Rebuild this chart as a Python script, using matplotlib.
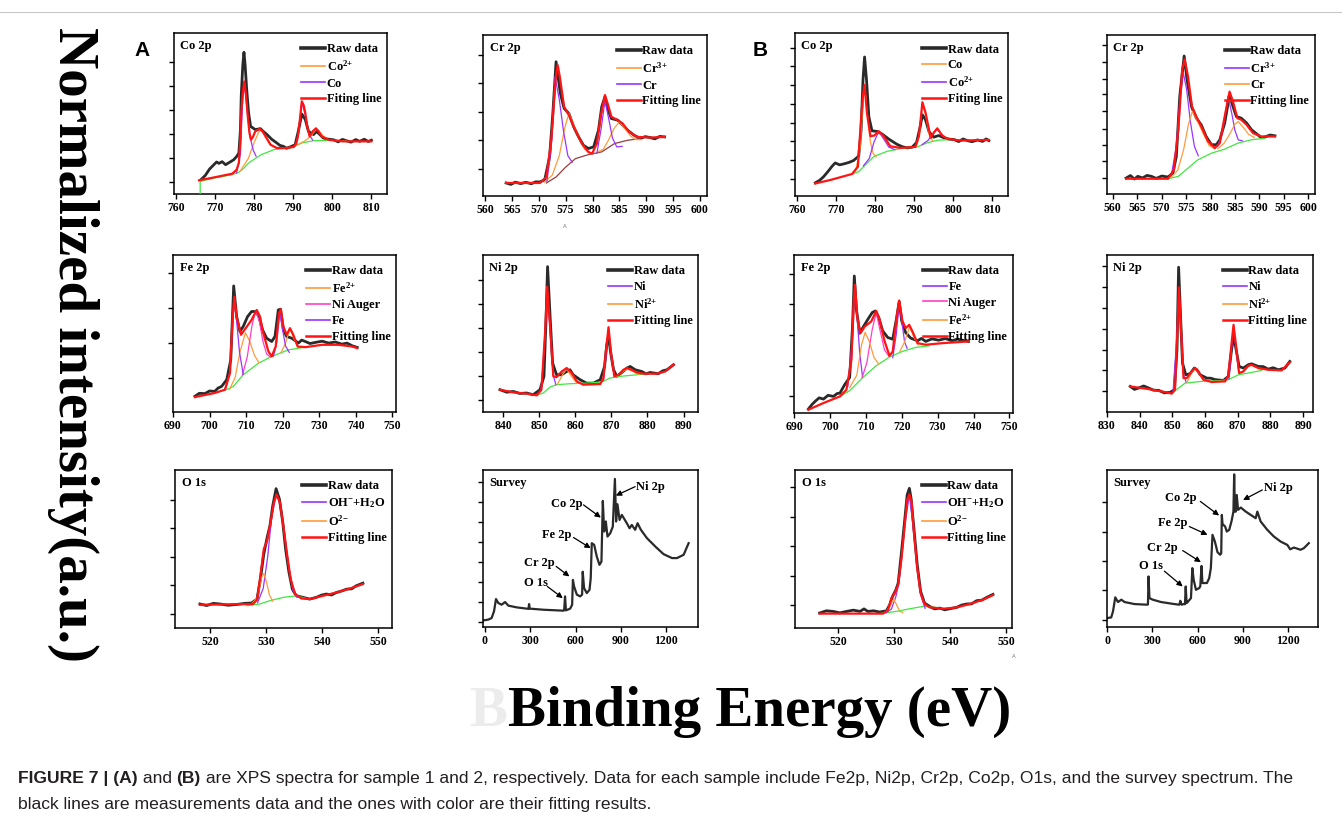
import numpy as np
import matplotlib
matplotlib.use("Agg")
import matplotlib.pyplot as plt
from matplotlib.lines import Line2D

plt.rcParams['font.family'] = 'Liberation Serif'
plt.rcParams['font.weight'] = 'bold'
plt.rcParams['mathtext.fontset'] = 'custom'
plt.rcParams['mathtext.rm'] = 'Liberation Serif:bold'
plt.rcParams['mathtext.default'] = 'rm'

nan = np.nan

# ---------------- sample 1 (A) ----------------
# Co 2p
a_co_raw = np.array([[766.4, 8.9], [767.5, 11.5], [768.6, 15.5], [769.7, 18.2], [770.4, 19.9], [771.0, 19.0], [771.8, 20.1],
                     [772.7, 18.2], [773.8, 19.8], [774.8, 21.3], [775.6, 23.5], [776.1, 25.5], [776.5, 40], [776.7, 60.7],
                     [777.1, 80], [777.4, 88], [777.7, 80], [778.1, 64.8], [778.6, 50], [779.1, 42], [780.3, 40],
                     [781.6, 40.6], [782.5, 38.5], [783.3, 36.9], [784.5, 34], [785.8, 31.7], [786.6, 30.2], [787.5, 29.6],
                     [788.3, 28.4], [789.2, 29.2], [790.5, 30.6], [791.4, 40], [792.2, 49.7], [793.1, 46.2], [793.9, 38.9],
                     [795.2, 36.9], [796.0, 38.9], [797.7, 34.8], [798.8, 34.1], [800.3, 33.7], [801.5, 32.4], [802.6, 33.9],
                     [803.6, 33.1], [804.8, 32.2], [806.0, 33.8], [807.0, 32.7], [808.2, 34.0], [809.2, 32.6], [810.0, 33.4]])
a_co_fit = np.array([[765.9, 8.5], [768.9, 9.9], [774.4, 12.6], [775.5, 15], [776.1, 19.3], [776.5, 35], [776.7, 50],
                     [777.1, 63], [777.5, 69.9], [777.9, 62], [778.4, 47.8], [778.8, 38], [779.2, 33.7], [779.7, 35.5],
                     [780.3, 38.9], [781.4, 40.4], [782.2, 38.8], [782.9, 35.8], [784.2, 30.6], [785.8, 28.6], [788, 28.5],
                     [790.1, 29.2], [790.8, 31.5], [791.2, 35.8], [791.7, 46], [792.2, 57.6], [792.7, 55], [793.1, 50.3],
                     [793.6, 42], [794.2, 35.8], [795.0, 38.9], [795.8, 40.8], [796.5, 39], [797.3, 35.8], [799.0, 33.7],
                     [802.8, 32.7], [810, 32.7]])
a_co_co2 = np.array([[776.5, 14.5], [778.5, 22], [780, 32], [781.5, 40.2], [783, 36], [784.5, 30], [786, 27.8],
                     [nan, nan], [791, 30.5], [793, 33], [794.5, 36], [796, 40.5], [797.5, 36.5], [799, 33.5]])
a_co_co = np.array([[775.5, 13], [776.5, 25], [777, 55], [777.5, 69.5], [778.2, 52], [779, 35], [779.8, 27], [780.5, 23.5],
                    [nan, nan], [790.5, 30], [791.3, 36], [792.2, 57], [793.1, 49], [794, 37], [795, 33.5]])
a_co_base = np.array([[766.2, 0], [766.2, 7.9], [770, 10], [774.4, 12], [776.1, 13.5], [777.4, 16.1], [778.3, 18.5],
                      [779.2, 20.3], [781.8, 24.4], [785, 27.5], [790.1, 29.2], [792.2, 31.7], [795.2, 33.1],
                      [798.6, 33.3], [803.6, 33.1]])

# Cr 2p
a_cr_raw = np.array([[563.9, 8.1], [564.8, 7.2], [565.6, 8.6], [566.6, 7.7], [567.6, 8.5], [568.6, 7.6], [569.4, 8.8],
                     [570.2, 8.7], [571.1, 10.2], [572.0, 24.3], [572.6, 51.2], [573.2, 83.4], [574.0, 63.7],
                     [574.7, 54.4], [575.6, 51.2], [576.5, 42.9], [577.4, 36.7], [578.3, 31.5], [579.2, 29.5],
                     [580.2, 30.5], [581.1, 40.9], [581.7, 55.4], [582.3, 61.6], [582.9, 53.3], [583.5, 48.1],
                     [584.7, 47.1], [585.6, 44], [586.5, 40.9], [587.7, 37.8], [588.9, 35.7], [589.8, 36.9],
                     [590.7, 36.3], [591.6, 35.5], [592.5, 37.0], [593.4, 36.7]])
a_cr_fit = np.array([[563.9, 8.1], [570.2, 8.1], [571.4, 11.8], [572.3, 34.6], [573.1, 72], [573.5, 81.3], [573.9, 74],
                     [574.7, 55.4], [575.6, 50.2], [576.5, 42.9], [578, 32.6], [579.2, 27.4], [579.9, 26.3],
                     [580.8, 32.6], [581.5, 49.2], [582.3, 62.7], [582.9, 56.4], [583.5, 49.2], [584.7, 47.1],
                     [585.6, 45], [586.8, 39.8], [588.3, 36.7], [590.7, 36.3], [593.4, 36.7]])
a_cr_cr3 = np.array([[571, 8.5], [572.5, 13], [573.8, 25], [574.8, 42], [575.6, 51.5], [576.5, 44], [577.5, 36],
                     [578.5, 29], [579.5, 26.5], [nan, nan], [581, 27.5], [582, 29], [583, 35], [584, 42], [585, 46],
                     [586, 42], [587, 37.5], [588, 35], [589, 35]])
a_cr_cr = np.array([[571.5, 9], [572.3, 30], [573.0, 74], [573.8, 60], [574.6, 40], [575.4, 25], [576.2, 21],
                    [nan, nan], [580.8, 26.5], [581.6, 42], [582.3, 59], [583, 48], [583.7, 36], [584.5, 30.5],
                    [585.5, 30.8]])
a_cr_base = np.array([[571.4, 8.1], [573.2, 11.8], [575, 18], [576.8, 23.2], [579.2, 25.7], [581.7, 27.4],
                      [584.1, 32.6], [586.5, 34.6], [588.9, 35.7]])

# Fe 2p
a_fe_raw = np.array([[696, 10], [697.2, 11.9], [698.7, 11.7], [700, 13.4], [701.4, 13.1], [702.3, 15.2], [703.3, 16.3],
                     [704.7, 20.6], [705.8, 33.3], [706.6, 80.3], [707.4, 60.8], [708.3, 51.3], [709.2, 54.4],
                     [710.4, 60.8], [711.5, 64], [712.6, 64], [713.5, 60.8], [714.5, 52.3], [715.6, 47], [717, 44.9],
                     [717.9, 48.1], [718.8, 65], [719.4, 65.5], [720.2, 52.3], [721.1, 48.1], [722.5, 47],
                     [724.3, 43.9], [725.2, 45.8], [726.2, 44.9], [727.5, 43.6], [728.9, 44.3], [730.8, 45.1],
                     [732.6, 43.9], [734.4, 44.6], [736.2, 43.2], [737.6, 43.9], [739, 42.2], [740.4, 41.1]])
a_fe_fit = np.array([[696, 9.5], [701.4, 12.1], [704.2, 14.2], [705.6, 24.8], [706.3, 60.8], [706.8, 73.5],
                     [707.4, 60.8], [708.6, 49.2], [709.9, 53.4], [711.5, 58.7], [712.9, 65], [713.8, 60.8],
                     [714.7, 50.2], [716.1, 38.6], [717, 35.4], [718.1, 41.7], [719, 62.9], [719.5, 65.5],
                     [720.2, 54.4], [721.1, 49.2], [722, 53.4], [722.9, 49.2], [724.1, 41.7], [726.2, 41.3],
                     [730.8, 42.8], [735.3, 42.8], [739, 41.7], [740.4, 40.7]])
a_fe_fe2 = np.array([[705.5, 14.5], [707, 22], [708.3, 38], [709.8, 50.5], [711, 45], [712.3, 36], [713.5, 31.5],
                     [nan, nan], [719.5, 37.5], [720.8, 44], [722, 53], [723, 47], [724.3, 41]])
a_fe_auger = np.array([[709, 23.5], [710.3, 35], [711.6, 55], [712.6, 64.5], [713.6, 58], [714.6, 45], [715.6, 37],
                       [716.6, 35]])
a_fe_fe = np.array([[704.5, 15.5], [705.5, 25], [706.3, 55], [706.8, 72.5], [707.4, 58], [708.2, 38], [709.2, 24],
                    [nan, nan], [717.5, 35.5], [718.4, 45], [719.2, 63.5], [720, 52], [720.8, 42], [721.8, 38]])
a_fe_base = np.array([[704.2, 13.8], [706.5, 16.3], [709.2, 23.7], [713.4, 31.1], [717, 35.4], [721.6, 39.6],
                      [726.2, 41.3]])

# Ni 2p
a_ni_raw = np.array([[839.1, 14.2], [841, 12.6], [842.8, 13.1], [844.6, 11.8], [846.5, 12.1], [848.3, 11], [850.2, 14.2],
                     [851.3, 22.7], [851.9, 60.8], [852.3, 92.6], [853, 60.8], [853.7, 31.1], [854.8, 23.7],
                     [856.2, 23.7], [857.6, 25.8], [858.5, 26.9], [859.4, 23.7], [861.3, 20.6], [863.1, 18.4],
                     [865, 18.4], [866.9, 20.6], [868.1, 29], [868.7, 42.8], [869.2, 48.1], [869.8, 37.5],
                     [870.6, 26.9], [871.5, 22.7], [872.9, 25.2], [874.3, 28], [875.2, 29], [876.6, 26.9],
                     [878.4, 25.8], [879.6, 24.3], [880.7, 25.2], [883, 24.4], [884.2, 26.2], [885.4, 26.9],
                     [887.2, 30.1]])
a_ni_fit = np.array([[839.1, 14.2], [842.8, 12.5], [846.5, 11.7], [849.3, 10.6], [850.6, 14.2], [851.6, 50.2],
                     [852.2, 79.9], [853, 54.4], [853.9, 22.7], [854.8, 22.2], [856.2, 25.8], [857.6, 28],
                     [859, 24.8], [860.4, 19.5], [862.2, 17.4], [866.9, 17.8], [867.8, 21.6], [868.5, 39.6],
                     [869.2, 54], [869.9, 37.5], [870.8, 22.7], [872, 23.7], [873.3, 26.9], [874.3, 28],
                     [875.6, 26.9], [877, 25.2], [878.9, 24.4], [882.6, 24.4], [884.9, 25.8], [887.2, 30.1]])
a_ni_ni = np.array([[850.5, 13.5], [851.6, 48], [852.2, 79], [853, 52], [853.8, 24], [854.6, 17.4],
                    [nan, nan], [867.8, 20], [868.6, 38], [869.2, 53], [869.9, 36], [870.8, 23]])
a_ni_ni2 = np.array([[855, 17.5], [856.5, 24], [857.6, 27.5], [858.8, 23], [860.4, 18.5],
                     [nan, nan], [871.5, 22.5], [873, 25.5], [874.3, 27.5], [875.8, 26], [877.5, 24]])
a_ni_base = np.array([[849.3, 10.6], [851.1, 12.1], [853, 15.9], [854.8, 17.4], [858.5, 18], [863.1, 18.4],
                      [867.3, 19.1], [869.6, 21.6], [872.4, 22.7], [877, 23.7], [879.8, 24.4]])

# O 1s
a_o_raw = np.array([[518.2, 15.2], [519.4, 14.2], [520.6, 15.6], [521.8, 15.2], [523.2, 14.4], [524.8, 14.9],
                    [526.2, 15.6], [527.4, 15.8], [528.4, 18.3], [529, 30.9], [529.6, 46.7], [530.2, 57.3],
                    [530.7, 64.6], [531.2, 77.3], [531.8, 88.2], [532.4, 81.5], [533, 66.7], [533.5, 49.9],
                    [534.1, 35.2], [534.7, 24.6], [535.4, 20.4], [536.6, 19.4], [537.8, 18.3], [539, 19.4],
                    [539.9, 20.8], [540.8, 21.5], [541.7, 20.9], [542.6, 22.5], [543.5, 23.4], [544.4, 24.6],
                    [545.3, 24.8], [546.1, 26.7], [547.3, 28.4]])
a_o_fit = np.array([[518.2, 14.7], [527.7, 15.2], [528.4, 17.9], [529, 33], [529.6, 49.9], [530.2, 55.2],
                    [530.8, 66.7], [531.4, 79.3], [531.9, 84.6], [532.5, 79.3], [533.1, 64.6], [533.8, 45.7],
                    [534.4, 31], [535.2, 21.5], [536.3, 18.7], [537.8, 18.3], [540.2, 20.4], [542.6, 22.5],
                    [545, 25], [547.3, 27.8]])
a_o_oh = np.array([[528.5, 16], [529.5, 25], [530.3, 45], [531, 70], [531.8, 84], [532.5, 79], [533.2, 62], [534, 40],
                   [534.8, 24], [535.5, 19.5]])
a_o_o2 = np.array([[527.5, 15.5], [528.5, 19.5], [529.2, 32], [529.6, 34.5], [530.1, 29], [530.6, 21], [531.2, 17]])
a_o_base = np.array([[526.5, 14.1], [528.9, 15.2], [530.7, 17.3], [533.1, 19.4], [535.4, 20.4], [537.2, 18.7]])

# survey
a_sv_raw = np.array([[-11, 4.2], [22, 4.7], [44, 5.7], [60, 10], [73, 17.8], [88, 15.3], [110, 14.2], [133, 15.9],
                     [155, 13.6], [210, 12.5], [276, 11.7], [288, 11.6], [292, 14.6], [296, 11.7], [387, 11],
                     [475, 10.6], [519, 10.4], [524, 10.6], [530, 19.5], [536, 10.6], [564, 11.7], [577, 14.2],
                     [582, 30], [590, 25.8], [608, 20.6], [630, 19.5], [643, 20.6], [647, 35.2], [656, 24.8],
                     [674, 21.6], [692, 23.7], [700, 31.1], [707, 53.4], [723, 52.3], [740, 44.9], [758, 39.6],
                     [771, 41.7], [780, 80.3], [789, 60.8], [800, 67.2], [811, 57.6], [829, 59.7], [846, 63.9],
                     [860, 94.3], [868, 67.2], [877, 78.2], [891, 68.2], [906, 71.4], [939, 66.1], [957, 62.9],
                     [972, 65], [994, 61.9], [1010, 66.1], [1032, 61.9], [1072, 56.6], [1127, 51.3], [1182, 46.4],
                     [1238, 43.9], [1271, 43.9], [1315, 46], [1348, 53.4]])

# ---------------- sample 2 (B) ----------------
# Co 2p
b_co_raw = np.array([[764.7, 8.1], [765.8, 9.6], [766.8, 11.8], [768, 15.2], [769, 18.3], [769.8, 20.3], [770.9, 19.1],
                     [772, 19.7], [773.3, 20.6], [774.5, 21.8], [775.8, 24.5], [776.4, 40], [776.9, 71.2],
                     [777.3, 85.3], [777.8, 71.2], [778.4, 48.5], [779.2, 40], [780.5, 39.6], [781.8, 38],
                     [783.5, 34.9], [785.6, 31.7], [786.9, 30.3], [788.2, 29.5], [789.5, 30], [790.6, 32.8],
                     [791.5, 42.1], [792.1, 49.8], [792.9, 46.7], [793.8, 39.4], [795, 36.1], [796.3, 37.1],
                     [797.6, 35.7], [798.9, 34.9], [800.2, 34.6], [801.4, 33.4], [802.5, 35.0], [803.6, 34],
                     [804.8, 33.3], [806.2, 34.4], [807.5, 33.5], [808.4, 35.0], [809.1, 34]])
b_co_fit = np.array([[764.7, 7.7], [768.5, 9.8], [774.1, 13.5], [775.6, 18], [776.4, 47], [776.9, 62], [777.3, 68.2],
                     [777.9, 51.2], [778.8, 36.7], [779.8, 37.1], [780.9, 39.8], [782.2, 36.7], [783.9, 30.5],
                     [786.5, 29.5], [790.3, 30.1], [791.2, 36.7], [791.7, 48], [792.1, 57.5], [792.9, 51.2],
                     [794.2, 35.7], [795, 38.8], [795.9, 41.5], [797.2, 37.1], [798.5, 35.1], [801.9, 34],
                     [809.1, 34.4]])
b_co_co = np.array([[775, 15], [776.2, 30], [776.8, 55], [777.3, 67.5], [778, 50], [778.8, 33], [779.5, 26],
                    [780.3, 24], [nan, nan], [790.5, 30.5], [791.3, 37], [792.1, 57], [792.9, 50], [793.8, 38],
                    [794.7, 34]])
b_co_co2 = np.array([[777, 18.5], [778.5, 23], [779.7, 33], [780.9, 39.5], [782.2, 35], [783.5, 30], [785, 28.5],
                     [nan, nan], [792, 31.5], [793.5, 34], [794.7, 38], [795.9, 41], [797.2, 37], [798.5, 35]])
b_co_base = np.array([[774.1, 13.5], [775.8, 14.9], [777.5, 19.1], [779.7, 24.3], [783.1, 27.4], [787.4, 29.5],
                      [790.8, 30.1], [793.3, 32.6], [795.9, 34.2], [799.3, 34.6]])

# Cr 2p
b_cr_raw = np.array([[562.7, 10], [563.6, 11.6], [564.4, 9.4], [565.1, 11.1], [566.1, 10.1], [567.0, 11.7],
                     [567.9, 11.1], [568.9, 9.8], [570.0, 11.3], [571.3, 10.7], [572.3, 13.2], [573, 23.6],
                     [573.7, 61.3], [574.6, 86.8], [575.2, 71.8], [576.1, 55], [577.1, 47.7], [578.1, 43.5],
                     [579.1, 36.2], [580.2, 31], [581.2, 31], [581.9, 34.1], [582.9, 44.6], [583.9, 62.3],
                     [584.6, 55], [585.3, 48.7], [586.3, 47.7], [587.4, 44.6], [588.4, 40.4], [589.7, 37.2],
                     [590.4, 35.3], [591.1, 35.8], [592.2, 37.1], [593.2, 36.6]])
b_cr_fit = np.array([[562.7, 9.6], [571.3, 9.6], [572.5, 15.3], [573.4, 40.4], [574.2, 78], [574.7, 84.7],
                     [575.4, 73.8], [576.2, 55], [577.1, 48.7], [578.1, 42.5], [579.5, 33.1], [580.9, 28.9],
                     [581.9, 32], [582.9, 48.7], [583.9, 64.4], [584.6, 58.2], [585.5, 47.7], [586.3, 46.7],
                     [587.4, 43.5], [588.7, 38.3], [590.4, 36.2], [593.2, 36.2]])
b_cr_cr3 = np.array([[572, 12], [573, 30], [573.8, 62], [574.4, 76.5], [575.1, 66], [575.9, 45], [576.7, 30],
                     [577.5, 24], [nan, nan], [581.5, 30], [582.5, 40], [583.6, 61.5], [584.4, 50], [585, 40],
                     [585.7, 34], [586.5, 33.5]])
b_cr_cr = np.array([[572, 10.5], [573.3, 15], [574.5, 28], [575.5, 44], [576.3, 52], [577.3, 46], [578.5, 38],
                    [579.7, 30.5], [580.8, 28.5], [nan, nan], [581.5, 28.5], [582.8, 32], [584, 38], [585, 44],
                    [585.7, 45.5], [586.7, 42], [587.8, 37.5], [589, 35.5]])
b_cr_base = np.array([[571.3, 9.6], [573.4, 11.1], [575.4, 16.3], [577.4, 21.5], [580.2, 25.7], [582.9, 28.2],
                      [585.6, 32], [588.4, 34.1], [591.1, 35.1]])

# Fe 2p
b_fe_raw = np.array([[694, 2.5], [695.1, 5.6], [695.9, 7.4], [697, 9.6], [698.2, 8.8], [699.5, 11.2], [701, 10.5],
                     [702, 12.3], [702.8, 12.6], [704.1, 17.9], [705.5, 22.5], [706.3, 54.7], [706.8, 86.7],
                     [707.4, 65.3], [708.3, 50.5], [709.2, 54.1], [710.6, 59.4], [711.8, 63.6], [712.7, 64.6],
                     [713.6, 60.4], [714.7, 52], [716.1, 47.8], [717.5, 46.7], [718.6, 60.4], [719.3, 70.5],
                     [720, 58.3], [721.1, 50.9], [722.5, 47.4], [724.4, 45.7], [725.5, 47.2], [726.7, 45.3],
                     [728.4, 46.9], [730.3, 46.1], [732.2, 47.1], [734, 45.7], [735.5, 46.8], [736.8, 46.1],
                     [738.6, 45.3]])
b_fe_fit = np.array([[694, 2.1], [698.2, 6.3], [702.8, 10.5], [704.6, 14.7], [706, 33.7], [706.6, 69.5], [707, 81.1],
                     [707.6, 61], [708.5, 50.5], [709.7, 54.7], [711.5, 57.9], [712.9, 64.6], [713.8, 59.4],
                     [715.2, 45.7], [716.6, 36.2], [717.5, 38.9], [718.6, 61], [719.3, 71.2], [720.2, 58.3],
                     [721.1, 53.7], [722.1, 55.8], [723, 51.6], [724.4, 44.2], [726.7, 43.2], [731.3, 44.2],
                     [738.6, 45.3]])
b_fe_fe = np.array([[705, 17], [706, 40], [706.9, 79.5], [707.6, 60], [708.3, 38], [709.1, 22.5],
                    [nan, nan], [717.5, 35], [718.5, 50], [719.3, 69.5], [720.1, 57], [720.8, 45], [721.5, 41]])
b_fe_auger = np.array([[709, 22.5], [710.3, 32], [711.8, 53], [712.9, 63.5], [714, 52], [715.2, 40], [716.4, 36]])
b_fe_fe2 = np.array([[705.5, 16], [707.5, 24], [708.8, 43], [709.8, 51], [711, 45], [712.3, 35], [713.6, 31],
                     [nan, nan], [719.5, 39], [720.8, 45], [722.2, 54.5], [723.4, 48], [724.6, 43]])
b_fe_base = np.array([[702.8, 10.5], [705.5, 14.1], [709, 22.1], [712.9, 29.9], [716.6, 35.4], [720.2, 39],
                      [723.9, 41.5], [727.6, 42.5]])

# Ni 2p
b_ni_raw = np.array([[837.1, 16.3], [838.4, 14.4], [839.7, 15.3], [841.2, 16.6], [842.7, 15.3], [844.2, 13.9],
                     [845.8, 13.8], [847.5, 12.2], [849.3, 12.5], [850.6, 14.2], [851.4, 39.6], [851.9, 92.2],
                     [852.5, 60.8], [853.1, 31.1], [854.1, 23.7], [855.4, 24.4], [856.7, 28], [857.5, 26.9],
                     [858.5, 23.7], [860.5, 21.6], [861.8, 21.5], [863.1, 20.6], [865.6, 20.1], [867.1, 22.7],
                     [868.1, 39.6], [868.7, 48.5], [869.5, 39.6], [870.4, 29], [871.7, 28], [873.2, 30.1],
                     [874.2, 30.7], [876.3, 29], [877.8, 28.9], [879.3, 27.3], [880.8, 28.2], [882.4, 26.9],
                     [884.4, 28], [885.9, 32.2]])
b_ni_fit = np.array([[837.1, 16.3], [842.7, 14.6], [846.8, 13.1], [849.8, 11.7], [850.8, 14.2], [851.5, 50.2],
                     [852, 79.4], [852.6, 54.4], [853.4, 21.6], [854.4, 21.6], [855.9, 25.8], [856.9, 28],
                     [857.9, 25.8], [859.5, 20.6], [862, 19.1], [866.1, 19.5], [867.1, 23.1], [868.1, 43.9],
                     [868.7, 55.5], [869.5, 41.7], [870.4, 24.8], [871.7, 25.8], [873.2, 29.4], [874.2, 30.1],
                     [876.3, 28], [879.3, 26.9], [883.4, 26.5], [885.9, 31.6]])
b_ni_ni = np.array([[850.2, 13], [851.3, 45], [852, 78.5], [852.7, 52], [853.4, 24], [854.2, 19],
                    [nan, nan], [867.3, 21], [868.1, 40], [868.7, 54.5], [869.5, 40], [870.3, 25]])
b_ni_ni2 = np.array([[854.5, 19], [855.9, 25], [856.9, 27.5], [858, 25], [859.4, 20.5],
                     [nan, nan], [871.2, 25], [872.7, 28.5], [874.2, 29.8], [875.8, 28.3], [877.3, 26.7]])
b_ni_base = np.array([[849.8, 11.7], [851.9, 15.3], [853.9, 18.4], [859, 19.5], [865.1, 20.1], [867.1, 20.6],
                      [870.2, 23.7], [874.2, 25.2], [877.3, 26.5]])

# O 1s
b_o_raw = np.array([[516.7, 9.5], [517.9, 10.9], [519.1, 10.5], [520.3, 9.6], [521.5, 10.5], [522.7, 11.3],
                    [523.9, 10.5], [524.6, 12.1], [525.3, 10.5], [526.3, 10.9], [527.4, 10.1], [528.6, 10.9],
                    [529.2, 14.7], [529.7, 20], [530.3, 24.2], [530.7, 28.4], [531.3, 48.4], [531.9, 69.5],
                    [532.3, 84.2], [532.7, 88.4], [533, 82.1], [533.5, 63.2], [534.1, 40], [534.7, 23.2],
                    [535.4, 15.8], [536.3, 13.7], [537.2, 12.1], [538.1, 12.6], [539, 11.5], [539.9, 12.2],
                    [541.1, 13], [542, 14.5], [542.9, 15.2], [543.8, 15.3], [544.7, 17.3], [545.6, 17.6],
                    [546.4, 19.2], [547.6, 21.3]])
b_o_fit = np.array([[516.7, 9.1], [528, 9.1], [528.9, 11.6], [529.5, 18.9], [530.1, 22.1], [530.7, 27.4],
                    [531.3, 44.2], [531.9, 66.3], [532.3, 81.1], [532.7, 84.6], [533.1, 80], [533.5, 61],
                    [534.1, 37.9], [534.7, 22.1], [535.4, 15.2], [536.3, 13.1], [538.7, 12.2], [541.1, 13],
                    [543.5, 15.2], [545.8, 17.9], [547.6, 20.8]])
b_o_oh = np.array([[528.5, 9.5], [529.5, 12], [530.3, 20], [530.8, 28], [531.3, 44], [531.9, 66], [532.7, 84],
                   [533.4, 63], [534.1, 38], [534.8, 20], [535.5, 12.5]])
b_o_o2 = np.array([[528.3, 9.5], [529.2, 13.5], [529.9, 18.5], [530.5, 14], [531, 10.5], [531.5, 9.8]])
b_o_base = np.array([[527.4, 9.1], [530.4, 10.5], [532.8, 12.2], [535.2, 13.7], [537.5, 13]])

# survey
b_sv_raw = np.array([[0, 5.7], [26, 6.1], [38, 10], [53, 18.9], [71, 15.9], [93, 17.4], [115, 15.9], [181, 14.6],
                     [265, 14.2], [270, 14.4], [274, 32.2], [280, 18.4], [302, 17.4], [357, 15.9], [446, 14.6],
                     [479, 14.2], [485, 16.7], [494, 14.2], [507, 14.6], [516, 14.5], [521, 25.8], [527, 15.2],
                     [534, 15.9], [556, 18.4], [565, 37.5], [574, 30.1], [589, 23.7], [611, 24.8], [618, 26],
                     [626, 38.9], [632, 28], [662, 28], [677, 31.1], [688, 37.5], [699, 58.7], [715, 54.4],
                     [732, 47.7], [750, 46], [757, 47], [761, 71.4], [766, 65], [772, 65], [783, 64], [794, 60.8],
                     [810, 61.9], [825, 67.2], [838, 73.5], [843, 97.2], [848, 73.5], [854, 73.5], [860, 84.1],
                     [869, 74.6], [887, 76.1], [920, 73.5], [953, 71.4], [986, 69.3], [997, 73.5], [1019, 67.2],
                     [1063, 61.9], [1107, 57.6], [1152, 54.4], [1196, 52.3], [1215, 49.5], [1240, 50.6],
                     [1284, 49.2], [1306, 50.2], [1328, 52.3], [1339, 53.4]])

# survey labels: (text, text x, text y, arrow start x, arrow start y, arrow tip x, arrow tip y)
a_sv_labels = [("Ni 2p", 1094, 89.4, 994, 89.4, 866, 83.7), ("Co 2p", 541, 78.2, 652, 77.8, 767, 69.7),
               ("Fe 2p", 475, 58.3, 586, 57.0, 700, 50.2), ("Cr 2p", 360, 40.7, 471, 38.6, 559, 32.2),
               ("O 1s", 338, 28.0, 413, 25.8, 515, 18.4)]
b_sv_labels = [("Ni 2p", 1140, 88.3, 1030, 87.3, 902, 80.9), ("Co 2p", 490, 82.4, 618, 80.0, 743, 71.0),
               ("Fe 2p", 435, 66.1, 545, 64.0, 666, 58.7), ("Cr 2p", 368, 50.6, 501, 48.7, 622, 41.3),
               ("O 1s", 291, 38.6, 379, 35.6, 501, 25.8)]

RAW = '#2a2a2a'
RED = '#ff1414'
ORANGE = '#ff9b3d'
PURPLE = '#9a35ff'
MAGENTA = '#ff3fc6'
GREEN = '#3fe83f'
BROWN = '#9a3b3b'

W, H = 1342, 825
fig = plt.figure(figsize=(W / 100, H / 100), dpi=100)


def add_panel(box, xlim, xticks, yticks, title):
    l, r, t, b = box
    ax = fig.add_axes([l / W, 1 - b / H, (r - l) / W, (b - t) / H])
    ax.set_xlim(*xlim)
    ax.set_ylim(0, 100)
    ax.set_xticks(xticks)
    ax.set_yticks(yticks)
    ax.set_yticklabels([])
    ax.tick_params(direction='out', length=3.5, width=1, labelsize=8.5, pad=2)
    for s in ax.spines.values():
        s.set_linewidth(1.1)
    ax.text(0.03, 0.955, title, transform=ax.transAxes, fontsize=9, va='top', ha='left')
    return ax


def spectrum(ax, raw, fit, comps, base, base_color=GREEN):
    # comps: list of (array, color, label)
    handles = [Line2D([], [], color=RAW, lw=2.6)]
    labels = ["Raw data"]
    ax.plot(raw[:, 0], raw[:, 1], color=RAW, lw=2.0, zorder=2)
    ax.plot(base[:, 0], base[:, 1], color=base_color, lw=0.9, zorder=3)
    for arr, col, lab in comps:
        ax.plot(arr[:, 0], arr[:, 1], color=col, lw=0.9, zorder=3)
        handles.append(Line2D([], [], color=col, lw=1.2))
        labels.append(lab)
    ax.plot(fit[:, 0], fit[:, 1], color=RED, lw=1.6, zorder=4)
    return handles, labels


def legend(ax, handles, labels, fit_label="Fitting line"):
    handles = handles + [Line2D([], [], color=RED, lw=1.8)]
    labels = labels + [fit_label]
    ax.legend(handles, labels, loc='upper right', bbox_to_anchor=(1.0, 0.97), frameon=False, fontsize=9,
              handlelength=1.9, handletextpad=0.15, labelspacing=0.3, borderaxespad=0.15, borderpad=0.3)


def survey(ax, raw, marks):
    ax.plot(raw[:, 0], raw[:, 1], color=RAW, lw=1.6)
    for txt, tx, ty, sx, sy, px, py in marks:
        ax.text(tx, ty, txt, fontsize=9, ha='center', va='center')
        ax.annotate("", xy=(px, py), xytext=(sx, sy),
                    arrowprops=dict(arrowstyle='-|>', color='black', lw=0.9, mutation_scale=8,
                                    shrinkA=0, shrinkB=0))


# ---- A panels
ax = add_panel((174, 387, 33, 194), (759.5, 814), [760, 770, 780, 790, 800, 810],
               [7.5, 22.4, 37.3, 52.4, 66.9, 81.8], "Co 2p")
h, l = spectrum(ax, a_co_raw, a_co_fit, [(a_co_co2, ORANGE, "Co$^{2{+}}$"), (a_co_co, PURPLE, "Co")], a_co_base)
legend(ax, h, l, "Fiting line")

ax = add_panel((483, 707, 35, 196), (559.6, 601.3), list(range(560, 601, 5)),
               [17, 34.6, 52.3, 69.9, 87.6], "Cr 2p")
h, l = spectrum(ax, a_cr_raw, a_cr_fit, [(a_cr_cr3, ORANGE, "Cr$^{3{+}}$"), (a_cr_cr, PURPLE, "Cr")], a_cr_base, BROWN)
legend(ax, h, l)

ax = add_panel((173, 396, 255, 412), (690, 751), list(range(690, 751, 10)),
               [21.6, 43.9, 66.1, 88.3], "Fe 2p")
h, l = spectrum(ax, a_fe_raw, a_fe_fit, [(a_fe_fe2, ORANGE, "Fe$^{2{+}}$"), (a_fe_auger, MAGENTA, "Ni Auger"),
                                         (a_fe_fe, PURPLE, "Fe")], a_fe_base)
legend(ax, h, l)

ax = add_panel((483, 698, 255, 412), (834.4, 894), list(range(840, 891, 10)),
               [7.4, 22.7, 37.9, 53.4, 68.9, 84.1], "Ni 2p")
h, l = spectrum(ax, a_ni_raw, a_ni_fit, [(a_ni_ni, PURPLE, "Ni"), (a_ni_ni2, ORANGE, "Ni$^{2{+}}$")], a_ni_base)
legend(ax, h, l)

ax = add_panel((175, 392, 470, 628), (513.75, 552.5), [520, 530, 540, 550],
               [9.1, 26.9, 44.8, 63.2, 81.1], "O 1s")
h, l = spectrum(ax, a_o_raw, a_o_fit, [(a_o_oh, PURPLE, "OH$^{-}$+H$_2$O"), (a_o_o2, ORANGE, "O$^{2{-}}$")], a_o_base)
legend(ax, h, l)

ax = add_panel((483, 698, 470, 627), (-13, 1410), [0, 300, 600, 900, 1200],
               [3.2, 15.9, 28.6, 41.3, 54, 66.7, 79.4, 92.6], "Survey")
survey(ax, a_sv_raw, a_sv_labels)

# ---- B panels
ax = add_panel((795, 1008, 33, 196), (759.5, 814), [760, 770, 780, 790, 800, 810],
               [10.4, 22.2, 33.6, 45, 56.4, 67.8, 79.7, 90.7], "Co 2p")
h, l = spectrum(ax, b_co_raw, b_co_fit, [(b_co_co, ORANGE, "Co"), (b_co_co2, PURPLE, "Co$^{2{+}}$")], b_co_base)
legend(ax, h, l, "Fiting line")

ax = add_panel((1107, 1315, 35, 194), (558.8, 601.4), list(range(560, 601, 5)),
               [10, 20.5, 31, 41, 52.3, 62.8, 72.2, 83, 93.5], "Cr 2p")
h, l = spectrum(ax, b_cr_raw, b_cr_fit, [(b_cr_cr3, PURPLE, "Cr$^{3{+}}$"), (b_cr_cr, ORANGE, "Cr")], b_cr_base)
legend(ax, h, l)

ax = add_panel((794, 1013, 255, 413), (690, 751), list(range(690, 751, 10)),
               [10.7, 29.5, 49.5, 68.8, 88], "Fe 2p")
h, l = spectrum(ax, b_fe_raw, b_fe_fit, [(b_fe_fe, PURPLE, "Fe"), (b_fe_auger, MAGENTA, "Ni Auger"),
                                         (b_fe_fe2, ORANGE, "Fe$^{2{+}}$")], b_fe_base)
legend(ax, h, l)

ax = add_panel((1107, 1313, 255, 412), (830, 893), list(range(830, 891, 10)),
               [13.1, 26.5, 39.6, 52.8, 66.1, 79.4, 93], "Ni 2p")
h, l = spectrum(ax, b_ni_raw, b_ni_fit, [(b_ni_ni, PURPLE, "Ni"), (b_ni_ni2, ORANGE, "Ni$^{2{+}}$")], b_ni_base)
legend(ax, h, l)

ax = add_panel((795, 1012, 470, 628), (512.3, 551), [520, 530, 540, 550],
               [14.3, 33, 52, 70.5, 89.5], "O 1s")
h, l = spectrum(ax, b_o_raw, b_o_fit, [(b_o_oh, PURPLE, "OH$^{-}$+H$_2$O"), (b_o_o2, ORANGE, "O$^{2{-}}$")], b_o_base)
legend(ax, h, l)

ax = add_panel((1107, 1318, 470, 627), (-2, 1400), [0, 300, 600, 900, 1200],
               [4.7, 23.3, 42.2, 60.8, 79.9], "Survey")
survey(ax, b_sv_raw, b_sv_labels)

# ---- figure texts
fig.text(142 / W, 1 - 50 / H, "A", family='Liberation Sans', fontsize=15, ha='center', va='center')
fig.text(760 / W, 1 - 50 / H, "B", family='Liberation Sans', fontsize=15, ha='center', va='center')
fig.text(565 / W, 1 - 226 / H, "A", family='Liberation Sans', weight='normal', fontsize=4, color='#777777',
         ha='center', va='center')
fig.text(1014 / W, 1 - 656 / H, "A", family='Liberation Sans', weight='normal', fontsize=4, color='#777777',
         ha='center', va='center')
fig.text(73 / W, 1 - 345 / H, "Normalized intensity(a.u.)", rotation=270, fontsize=41,
         ha='center', va='center')
fig.text(488 / W, 1 - 712 / H, "B", fontsize=41, color='#ececec', ha='center', va='center')
fig.text(760 / W, 1 - 712 / H, "Binding Energy (eV)", fontsize=41, ha='center', va='center')

fig.add_artist(Line2D([0, 1], [1 - 12 / H, 1 - 12 / H], color='#c8c8c8', lw=0.8))

# caption with bold pieces, all on one baseline
renderer = fig.canvas.get_renderer()
cap_color = '#231f20'
line1 = [("FIGURE 7 | (A)", 'bold'), (" and ", 'normal'), ("(B)", 'bold'),
         (" are XPS spectra for sample 1 and 2, respectively. Data for each sample include Fe2p, Ni2p, Cr2p, Co2p, "
          "O1s, and the survey spectrum. The", 'normal')]
x0 = 18 / W
x = x0
for txt, wt in line1:
    t = fig.text(x, 1 - 783 / H, txt, family='Liberation Sans', weight=wt, fontsize=12.6, color=cap_color,
                 ha='left', va='baseline')
    bb = t.get_window_extent(renderer)
    x += bb.width / W
fig.text(x0, 1 - 809 / H, "black lines are measurements data and the ones with color are their fitting results.",
         family='Liberation Sans', weight='normal', fontsize=12.6, color=cap_color, ha='left', va='baseline')

fig.savefig("out.png", dpi=100)
